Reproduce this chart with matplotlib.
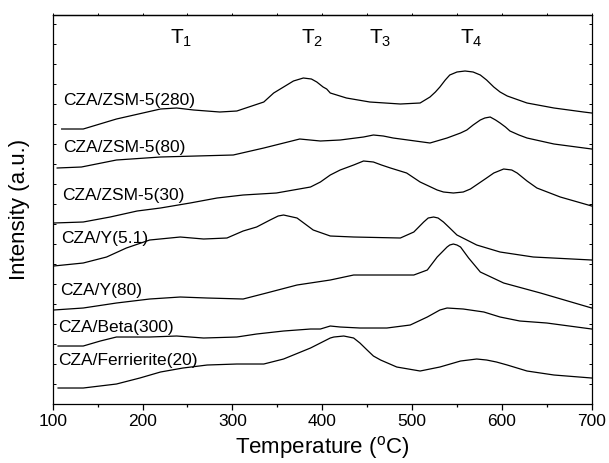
import numpy as np
import matplotlib
matplotlib.use('Agg')
import matplotlib.pyplot as plt
from matplotlib.ticker import MultipleLocator

plt.rcParams['font.family'] = ['Liberation Sans', 'DejaVu Sans']
plt.rcParams['mathtext.fontset'] = 'custom'
plt.rcParams['mathtext.rm'] = 'Liberation Sans'

# TPD profiles (temperature in C, intensity in a.u.)
t_zsm280 = [110, 134, 171, 220, 238, 257, 286, 305, 335, 346, 357, 368, 379, 388, 394, 401, 405, 409, 427, 453,
            487, 509, 520, 526, 531, 537, 542, 550, 559, 568, 576, 583, 591, 598, 606, 628, 658, 691, 700]
i_zsm280 = [275, 275, 285, 295, 296, 294, 292, 293, 302, 311, 317, 323, 326, 325, 322, 317, 315, 311, 306, 302,
            300, 301, 307, 312, 317, 324, 329, 332, 333, 332, 329, 324, 317, 312, 308, 301, 296, 292, 291]

t_zsm80 = [105, 132, 171, 220, 260, 301, 335, 375, 398, 420, 446, 457, 468, 479, 520, 539, 554, 561, 568, 576,
           581, 587, 593, 598, 604, 609, 619, 628, 658, 700]
i_zsm80 = [236, 237, 244, 247, 248, 249, 256, 265, 263, 264, 267, 269, 268, 266, 261, 266, 271, 274, 279, 284,
           286, 287, 284, 281, 277, 273, 269, 266, 260, 255]

t_zsm30 = [101, 134, 164, 194, 220, 253, 283, 312, 349, 387, 398, 409, 420, 435, 446, 457, 466, 476, 494, 509,
           528, 535, 546, 557, 565, 583, 591, 602, 611, 617, 628, 639, 665, 700]
i_zsm30 = [181, 182, 187, 193, 196, 201, 206, 209, 211, 217, 222, 229, 234, 239, 243, 242, 239, 236, 231, 222,
           214, 212, 211, 212, 215, 226, 231, 235, 234, 231, 223, 216, 207, 198]

t_y51 = [101, 134, 160, 182, 208, 242, 268, 294, 312, 327, 342, 351, 357, 362, 372, 381, 390, 409, 435, 487,
         502, 513, 518, 524, 529, 535, 542, 550, 572, 598, 635, 700]
i_y51 = [138, 141, 147, 156, 164, 167, 165, 166, 173, 177, 184, 188, 189, 188, 186, 180, 174, 168, 167, 166,
         172, 182, 186, 187, 186, 182, 176, 169, 159, 152, 147, 144]

t_y80 = [101, 134, 171, 208, 242, 272, 312, 338, 372, 409, 435, 472, 502, 517, 528, 539, 542, 546, 550, 554,
         563, 576, 602, 643, 700]
i_y80 = [94, 96, 101, 105, 107, 106, 105, 111, 119, 124, 129, 129, 129, 134, 147, 157, 159, 160, 159, 157,
         146, 132, 121, 111, 96]

t_beta = [106, 134, 153, 171, 208, 238, 268, 305, 327, 357, 387, 398, 409, 420, 442, 472, 498, 517, 531, 539,
          557, 580, 598, 620, 650, 700]
i_beta = [58, 58, 63, 67, 67, 68, 66, 67, 70, 73, 75, 75, 78, 77, 76, 76, 79, 87, 94, 96,
          95, 92, 87, 83, 81, 75]

t_fer = [106, 134, 171, 197, 220, 245, 272, 305, 335, 357, 387, 409, 413, 424, 435, 442, 450, 457, 465, 483,
         509, 531, 554, 572, 583, 594, 606, 628, 658, 700]
i_fer = [16, 16, 20, 26, 32, 36, 39, 40, 40, 45, 56, 66, 67, 68, 66, 61, 54, 48, 44, 37,
         33, 37, 43, 45, 44, 42, 39, 33, 29, 26]

labels = ['CZA/ZSM-5(280)', 'CZA/ZSM-5(80)', 'CZA/ZSM-5(30)', 'CZA/Y(5.1)',
          'CZA/Y(80)', 'CZA/Beta(300)', 'CZA/Ferrierite(20)']
peak_names = [r'$\mathrm{T}_1$', r'$\mathrm{T}_2$', r'$\mathrm{T}_3$', r'$\mathrm{T}_4$']
peak_temps = [243, 389, 465, 566]

series = [(t_zsm280, i_zsm280), (t_zsm80, i_zsm80), (t_zsm30, i_zsm30), (t_y51, i_y51),
          (t_y80, i_y80), (t_beta, i_beta), (t_fer, i_fer)]
label_pos = [(112, 304), (112, 257), (111, 209), (109, 166), (108, 114), (106, 77), (106, 44)]

fig = plt.figure(figsize=(6.09, 4.63), dpi=100)
ax = fig.add_axes([0.0865, 0.1274, 0.8851, 0.8402])

for (t, i), lab, (lx, ly) in zip(series, labels, label_pos):
    ax.plot(t, i, color='black', lw=0.9)
    ax.text(lx, ly, lab, fontsize=12.5, ha='left', va='center')

for name, tp in zip(peak_names, peak_temps):
    ax.text(tp, 366, name, fontsize=15, ha='center', va='center')

ax.set_xlim(100, 700)
ax.set_ylim(0, 389)
ax.xaxis.set_major_locator(MultipleLocator(100))
ax.xaxis.set_minor_locator(MultipleLocator(50))
ax.yaxis.set_major_locator(MultipleLocator(20))
ax.tick_params(axis='x', which='major', direction='out', length=4.5, width=0.9,
               labelsize=12.5, pad=3)
ax.tick_params(axis='x', which='minor', direction='out', length=2.5, width=0.9)
ax.tick_params(axis='y', which='major', direction='in', length=2, width=0.7,
               left=True, right=True, labelleft=False)

top = ax.secondary_xaxis('top')
top.xaxis.set_major_locator(MultipleLocator(100))
top.xaxis.set_minor_locator(MultipleLocator(50))
top.tick_params(which='both', direction='out', length=1.5, width=0.7, labeltop=False)
top.spines['top'].set_linewidth(0.9)

for s in ax.spines.values():
    s.set_linewidth(0.9)

ax.set_xlabel(r'Temperature ($^\mathrm{o}$C)', fontsize=16, labelpad=3)
ax.set_ylabel('Intensity (a.u.)', fontsize=16, labelpad=16)

fig.savefig('out.png', dpi=100)
